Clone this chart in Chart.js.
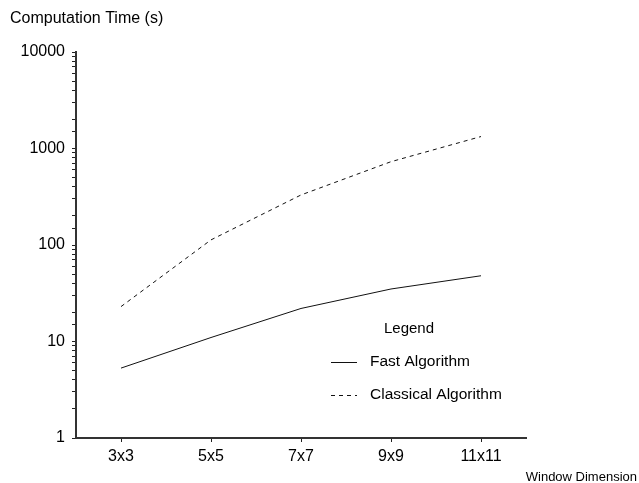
<!DOCTYPE html>
<html>
<head>
<meta charset="utf-8">
<style>
  html, body { margin: 0; padding: 0; background: #fff; }
  #wrap { width: 639px; height: 483px; position: relative; }
</style>
<script src="https://cdn.jsdelivr.net/npm/chart.js@4.4.0/dist/chart.umd.min.js"></script>
</head>
<body>
<div id="wrap"><canvas id="c" width="639" height="483"></canvas></div>
<script>
const categories = ['3x3', '5x5', '7x7', '9x9', '11x11'];
const fastValues = [5.3, 11, 22, 35, 48];
const classicalValues = [23, 113, 330, 730, 1330];
const yTickLabels = [1, 10, 100, 1000, 10000];
const seriesNames = ['Fast Algorithm', 'Classical Algorithm'];
const yTitle = 'Computation Time (s)';
const xTitle = 'Window Dimension';
const legendTitle = 'Legend';

const FONT = '"Liberation Sans", Arial, Helvetica, sans-serif';

const textPlugin = {
  id: 'textPlugin',
  afterDraw(chart) {
    const ctx = chart.ctx;
    ctx.save();
    ctx.fillStyle = '#000';
    ctx.textBaseline = 'middle';
    ctx.font = '16px ' + FONT;
    ctx.textAlign = 'left';
    ctx.fillText(yTitle, 10, 19);
    ctx.font = '13px ' + FONT;
    ctx.textAlign = 'right';
    ctx.fillText(xTitle, 637, 477);
    // legend
    ctx.font = '15px ' + FONT;
    ctx.textAlign = 'left';
    ctx.fillText(legendTitle, 384, 329);
    const rows = [362, 395];
    ctx.font = '15.5px ' + FONT;
    chart.data.datasets.forEach((ds, i) => {
      const y = rows[i];
      ctx.strokeStyle = ds.borderColor;
      ctx.lineWidth = ds.borderWidth;
      ctx.setLineDash(ds.borderDash || []);
      ctx.beginPath();
      ctx.moveTo(331, y + 0.5);
      ctx.lineTo(357, y + 0.5);
      ctx.stroke();
      ctx.setLineDash([]);
      ctx.fillText(ds.label, 370, y);
    });
    ctx.restore();
  }
};

new Chart(document.getElementById('c'), {
  type: 'line',
  data: {
    labels: categories,
    datasets: [
      {
        label: seriesNames[0],
        data: fastValues,
        borderColor: '#111',
        borderWidth: 1,
        pointRadius: 0,
        tension: 0,
        fill: false
      },
      {
        label: seriesNames[1],
        data: classicalValues,
        borderColor: '#111',
        borderWidth: 1,
        borderDash: [4, 4],
        pointRadius: 0,
        tension: 0,
        fill: false
      }
    ]
  },
  options: {
    responsive: false,
    animation: false,
    devicePixelRatio: 1,
    layout: { padding: { left: 0, top: 52, right: 113, bottom: 0 } },
    plugins: {
      legend: { display: false },
      title: { display: false },
      tooltip: { enabled: false }
    },
    scales: {
      x: {
        type: 'category',
        offset: true,
        grid: {
          offset: false,
          drawOnChartArea: false,
          drawTicks: true,
          tickLength: 4,
          tickColor: '#222',
          tickWidth: 1
        },
        border: { display: true, color: '#333', width: 2 },
        ticks: {
          color: '#000',
          font: { family: FONT, size: 16 },
          padding: 5,
          maxRotation: 0,
          autoSkip: false
        },
        afterFit(scale) { scale.height = 45; }
      },
      y: {
        type: 'logarithmic',
        min: 1,
        max: 10000,
        grid: {
          drawOnChartArea: false,
          drawTicks: true,
          tickLength: 4,
          tickColor: '#222',
          tickWidth: 1
        },
        border: { display: true, color: '#333', width: 2 },
        ticks: {
          color: '#000',
          font: { family: FONT, size: 16 },
          padding: 7,
          autoSkip: false,
          callback(value) {
            return yTickLabels.includes(Number(value)) ? String(value) : '';
          }
        },
        afterFit(scale) { scale.width = 76; }
      }
    }
  },
  plugins: [textPlugin]
});
</script>
</body>
</html>
